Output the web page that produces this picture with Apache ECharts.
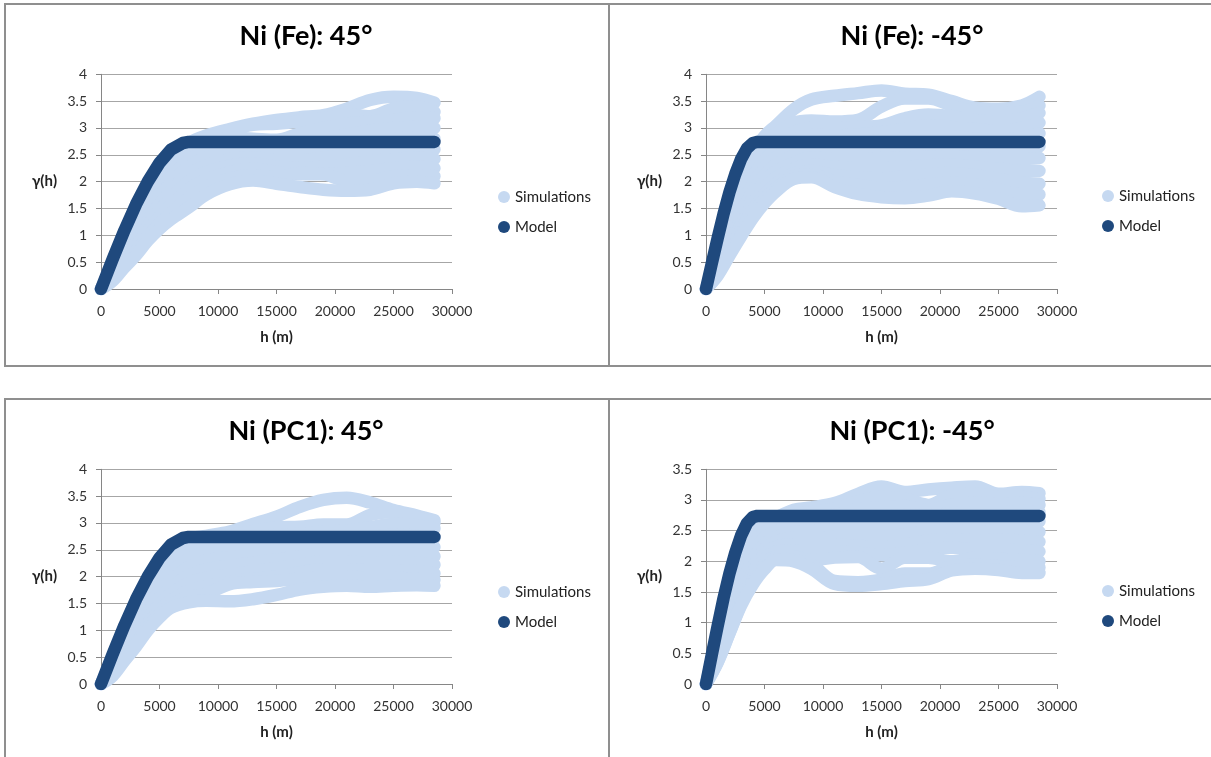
<!DOCTYPE html>
<html>
<head>
<meta charset="utf-8">
<script src="https://cdn.jsdelivr.net/npm/echarts@6/dist/echarts.min.js"></script>
<style>
html,body{margin:0;padding:0;background:#fff;}
#chart{width:1211px;height:757px;}
</style>
</head>
<body>
<div id="chart"></div>
<script>
// ---------- data ----------
var titles = ['Ni (Fe): 45°', 'Ni (Fe): -45°', 'Ni (PC1): 45°', 'Ni (PC1): -45°'];
var xTicks = [0, 5000, 10000, 15000, 20000, 25000, 30000];
var yMaxes = [4, 4, 4, 3.5];

// lag distances (m) at which the simulated variograms were read
var lagH = [0, 1000, 2000, 3000, 4000, 5000, 6000, 7500, 9000, 11000, 13000, 15000, 17000, 19000, 21000, 23000, 25000, 27000, 28500];

// Ni (Fe) 45°
var simFe45 = [
  [0, 0.50, 1.00, 1.45, 1.88, 2.22, 2.48, 2.72, 2.86, 2.98, 3.08, 3.15, 3.20, 3.24, 3.36, 3.52, 3.58, 3.56, 3.47],
  [0, 0.45, 0.92, 1.36, 1.76, 2.10, 2.36, 2.62, 2.80, 2.95, 3.06, 3.08, 3.12, 3.18, 3.25, 3.22, 3.36, 3.40, 3.30],
  [0, 0.40, 0.84, 1.26, 1.65, 1.98, 2.24, 2.52, 2.70, 2.82, 2.80, 2.78, 2.90, 3.00, 3.08, 3.12, 3.15, 3.20, 3.18],
  [0, 0.36, 0.76, 1.15, 1.52, 1.84, 2.10, 2.40, 2.58, 2.68, 2.66, 2.65, 2.72, 2.80, 2.88, 2.95, 3.00, 3.02, 3.00],
  [0, 0.32, 0.70, 1.06, 1.40, 1.72, 1.98, 2.28, 2.45, 2.55, 2.55, 2.52, 2.55, 2.62, 2.68, 2.74, 2.80, 2.82, 2.80],
  [0, 0.28, 0.64, 0.96, 1.28, 1.58, 1.84, 2.14, 2.30, 2.42, 2.45, 2.40, 2.40, 2.45, 2.50, 2.55, 2.60, 2.62, 2.60],
  [0, 0.25, 0.58, 0.88, 1.18, 1.46, 1.70, 2.00, 2.18, 2.30, 2.34, 2.28, 2.26, 2.28, 2.32, 2.38, 2.42, 2.45, 2.42],
  [0, 0.22, 0.52, 0.80, 1.08, 1.34, 1.56, 1.86, 2.04, 2.18, 2.24, 2.18, 2.14, 2.14, 2.16, 2.20, 2.25, 2.28, 2.25],
  [0, 0.18, 0.46, 0.72, 0.98, 1.22, 1.42, 1.70, 1.90, 2.06, 2.12, 2.08, 2.16, 2.14, 2.02, 2.02, 2.10, 2.12, 2.10],
  [0, 0.15, 0.40, 0.63, 0.90, 1.12, 1.30, 1.52, 1.76, 1.95, 2.02, 1.96, 1.90, 1.85, 1.83, 1.85, 1.97, 2.00, 1.97]
];

// Ni (Fe) -45°
var simFeM45 = [
  [0, 0.75, 1.50, 2.10, 2.55, 2.85, 3.05, 3.35, 3.53, 3.60, 3.65, 3.70, 3.64, 3.62, 3.50, 3.38, 3.36, 3.42, 3.58],
  [0, 0.68, 1.36, 1.94, 2.40, 2.72, 2.90, 3.10, 3.14, 3.12, 3.15, 3.40, 3.55, 3.55, 3.42, 3.30, 3.28, 3.30, 3.42],
  [0, 0.62, 1.24, 1.80, 2.25, 2.55, 2.72, 2.92, 3.00, 3.00, 3.02, 3.05, 3.18, 3.25, 3.22, 3.15, 3.12, 3.18, 3.28],
  [0, 0.56, 1.12, 1.66, 2.10, 2.40, 2.60, 2.78, 2.88, 2.86, 2.88, 2.92, 2.98, 3.05, 3.02, 2.98, 2.95, 3.00, 3.10],
  [0, 0.50, 1.02, 1.54, 1.96, 2.25, 2.45, 2.62, 2.72, 2.72, 2.74, 2.76, 2.80, 2.84, 2.84, 2.80, 2.78, 2.82, 2.90],
  [0, 0.45, 0.93, 1.42, 1.82, 2.12, 2.32, 2.48, 2.58, 2.58, 2.58, 2.60, 2.62, 2.64, 2.66, 2.62, 2.60, 2.62, 2.66],
  [0, 0.40, 0.85, 1.30, 1.70, 2.00, 2.20, 2.35, 2.45, 2.42, 2.42, 2.44, 2.45, 2.46, 2.48, 2.45, 2.42, 2.42, 2.44],
  [0, 0.36, 0.78, 1.20, 1.58, 1.88, 2.08, 2.24, 2.32, 2.28, 2.26, 2.26, 2.28, 2.30, 2.32, 2.28, 2.24, 2.20, 2.20],
  [0, 0.32, 0.72, 1.10, 1.48, 1.76, 1.96, 2.16, 2.20, 2.12, 2.08, 2.06, 2.10, 2.14, 2.16, 2.12, 2.05, 1.98, 1.96],
  [0, 0.28, 0.66, 1.03, 1.40, 1.68, 1.88, 2.10, 2.14, 2.00, 1.94, 1.88, 1.90, 1.95, 1.98, 1.95, 1.86, 1.76, 1.76],
  [0, 0.25, 0.62, 0.98, 1.32, 1.60, 1.82, 2.05, 2.08, 1.90, 1.77, 1.71, 1.69, 1.74, 1.82, 1.78, 1.68, 1.54, 1.56]
];

// Ni (PC1) 45°
var simPc45 = [
  [0, 0.50, 1.00, 1.45, 1.86, 2.20, 2.46, 2.70, 2.76, 2.84, 2.98, 3.12, 3.30, 3.43, 3.47, 3.38, 3.24, 3.14, 3.05],
  [0, 0.46, 0.93, 1.36, 1.75, 2.08, 2.34, 2.60, 2.70, 2.76, 2.85, 2.92, 2.93, 2.97, 2.97, 3.15, 3.20, 3.10, 3.00],
  [0, 0.42, 0.86, 1.27, 1.64, 1.96, 2.22, 2.48, 2.60, 2.66, 2.72, 2.78, 2.80, 2.84, 2.86, 2.92, 2.98, 2.96, 2.90],
  [0, 0.38, 0.80, 1.18, 1.54, 1.84, 2.08, 2.34, 2.46, 2.52, 2.58, 2.62, 2.66, 2.70, 2.72, 2.74, 2.78, 2.76, 2.72],
  [0, 0.34, 0.72, 1.09, 1.44, 1.72, 1.94, 2.18, 2.30, 2.36, 2.42, 2.48, 2.52, 2.55, 2.56, 2.58, 2.60, 2.58, 2.55],
  [0, 0.30, 0.66, 1.00, 1.33, 1.60, 1.80, 2.02, 2.14, 2.20, 2.26, 2.32, 2.38, 2.42, 2.42, 2.42, 2.44, 2.42, 2.38],
  [0, 0.26, 0.60, 0.91, 1.22, 1.48, 1.68, 1.88, 1.98, 2.04, 2.10, 2.16, 2.22, 2.28, 2.28, 2.26, 2.28, 2.26, 2.22],
  [0, 0.22, 0.54, 0.84, 1.13, 1.37, 1.56, 1.74, 1.82, 1.90, 1.96, 2.00, 2.08, 2.14, 2.14, 2.12, 2.12, 2.10, 2.06],
  [0, 0.18, 0.48, 0.76, 1.06, 1.30, 1.48, 1.63, 1.68, 1.86, 1.90, 1.92, 1.96, 2.00, 2.00, 1.98, 1.98, 1.96, 1.94],
  [0, 0.15, 0.43, 0.70, 1.00, 1.24, 1.42, 1.52, 1.55, 1.54, 1.58, 1.66, 1.76, 1.81, 1.83, 1.81, 1.83, 1.84, 1.83]
];

// Ni (PC1) -45°
var simPcM45 = [
  [0, 0.80, 1.55, 2.15, 2.55, 2.68, 2.72, 2.84, 2.88, 2.95, 3.10, 3.22, 3.13, 3.17, 3.20, 3.22, 3.10, 3.13, 3.11],
  [0, 0.72, 1.40, 1.98, 2.40, 2.58, 2.65, 2.76, 2.80, 2.86, 2.98, 3.05, 3.02, 2.92, 3.08, 3.10, 3.05, 3.05, 3.02],
  [0, 0.66, 1.28, 1.84, 2.26, 2.47, 2.56, 2.66, 2.70, 2.76, 2.85, 2.88, 2.90, 2.84, 2.92, 2.96, 2.94, 2.95, 2.92],
  [0, 0.60, 1.18, 1.72, 2.14, 2.38, 2.48, 2.58, 2.60, 2.65, 2.70, 2.72, 2.76, 2.75, 2.78, 2.80, 2.80, 2.82, 2.80],
  [0, 0.55, 1.08, 1.60, 2.02, 2.28, 2.40, 2.48, 2.50, 2.52, 2.55, 2.56, 2.60, 2.62, 2.64, 2.64, 2.65, 2.66, 2.65],
  [0, 0.50, 0.99, 1.50, 1.90, 2.20, 2.32, 2.38, 2.38, 2.40, 2.40, 2.40, 2.44, 2.48, 2.50, 2.48, 2.50, 2.50, 2.48],
  [0, 0.46, 0.92, 1.42, 1.82, 2.12, 2.24, 2.28, 2.28, 2.28, 2.25, 2.24, 2.28, 2.34, 2.36, 2.34, 2.35, 2.34, 2.32],
  [0, 0.42, 0.88, 1.36, 1.74, 2.04, 2.16, 2.18, 2.16, 2.16, 2.14, 2.10, 2.14, 2.20, 2.22, 2.20, 2.20, 2.18, 2.16],
  [0, 0.38, 0.85, 1.32, 1.68, 1.95, 2.08, 2.08, 2.02, 2.06, 2.07, 1.88, 2.06, 2.06, 2.00, 2.06, 2.04, 2.02, 2.00],
  [0, 0.36, 0.83, 1.30, 1.65, 1.90, 2.04, 2.02, 1.95, 1.68, 1.66, 1.70, 1.80, 1.80, 1.92, 1.94, 1.92, 1.90, 1.90],
  [0, 0.35, 0.82, 1.28, 1.62, 1.87, 2.02, 2.00, 1.88, 1.63, 1.60, 1.63, 1.68, 1.71, 1.85, 1.88, 1.86, 1.81, 1.81]
];

// fitted spherical models
var modelH45 = [0, 1000, 2000, 3000, 4000, 5000, 6000, 7000, 7500, 28500];
var modelG45 = [0, 0.56, 1.09, 1.58, 2.00, 2.35, 2.60, 2.72, 2.74, 2.74];
var modelHM45 = [0, 500, 1000, 1500, 2000, 2500, 3000, 3500, 4000, 4400, 28500];
var modelGM45 = [0, 0.48, 0.95, 1.40, 1.80, 2.14, 2.42, 2.62, 2.72, 2.74, 2.74];

// ---------- layout ----------
var SIM_COLOR = '#c6d9f1';
var MODEL_COLOR = '#1f497d';
var FONT = 'Lato, "Open Sans", sans-serif';

var panels = [
  {sims: simFe45,  mh: modelH45,  mg: modelG45,  grid: {left: 101, top: 74.3,  width: 351, height: 214.7}, legend: {left: 498,  top: 189}, title: [306, 36],  box: [5, 4]},
  {sims: simFeM45, mh: modelHM45, mg: modelGM45, grid: {left: 706, top: 74.3,  width: 351, height: 214.7}, legend: {left: 1102, top: 188}, title: [912, 36],  box: [609, 4]},
  {sims: simPc45,  mh: modelH45,  mg: modelG45,  grid: {left: 101, top: 469.3, width: 351, height: 214.7}, legend: {left: 498,  top: 584}, title: [306, 431], box: [5, 399]},
  {sims: simPcM45, mh: modelHM45, mg: modelGM45, grid: {left: 706, top: 469.3, width: 351, height: 214.7}, legend: {left: 1102, top: 583}, title: [912, 431], box: [609, 399]}
];

function pairs(xs, ys) {
  var out = [];
  for (var i = 0; i < xs.length; i++) out.push([xs[i], ys[i]]);
  return out;
}

var grids = [], xAxes = [], yAxes = [], series = [], legends = [], graphics = [];

panels.forEach(function (p, k) {
  grids.push(p.grid);
  xAxes.push({
    type: 'value', gridIndex: k, min: xTicks[0], max: xTicks[xTicks.length - 1], interval: xTicks[1] - xTicks[0],
    name: 'h (m)', nameLocation: 'middle', nameGap: 41,
    nameTextStyle: {fontFamily: FONT, fontWeight: 'bold', fontSize: 15, color: '#222'},
    axisLine: {show: true, lineStyle: {color: '#868686', width: 1}},
    axisTick: {show: true, length: 5, lineStyle: {color: '#868686'}},
    axisLabel: {fontFamily: FONT, fontSize: 14, color: '#333', margin: 15,
                formatter: function (v) { return String(v); }},
    splitLine: {show: false}
  });
  yAxes.push({
    type: 'value', gridIndex: k, min: 0, max: yMaxes[k], interval: 0.5,
    name: 'γ(h)', nameLocation: 'middle', nameRotate: 0, nameGap: 44,
    nameTextStyle: {fontFamily: FONT, fontWeight: 'bold', fontSize: 15, color: '#222'},
    axisLine: {show: true, lineStyle: {color: '#868686', width: 1}},
    axisTick: {show: true, length: 5, lineStyle: {color: '#868686'}},
    axisLabel: {fontFamily: FONT, fontSize: 14, color: '#333', margin: 14,
                formatter: function (v) { return String(v); }},
    splitLine: {show: true, lineStyle: {color: '#a6a6a6', width: 1}}
  });
  p.sims.forEach(function (s) {
    series.push({
      name: 'Simulations', type: 'line', xAxisIndex: k, yAxisIndex: k,
      data: pairs(lagH, s), smooth: 0.35, showSymbol: false, symbol: 'circle',
      itemStyle: {color: SIM_COLOR},
      lineStyle: {color: SIM_COLOR, width: 12.5, cap: 'round', join: 'round'},
      silent: true, animation: false, z: 2
    });
  });
  series.push({
    name: 'Model', type: 'line', xAxisIndex: k, yAxisIndex: k,
    data: pairs(p.mh, p.mg), smooth: false, showSymbol: false, symbol: 'circle',
    itemStyle: {color: MODEL_COLOR},
    lineStyle: {color: MODEL_COLOR, width: 12.5, cap: 'round', join: 'round'},
    silent: true, animation: false, z: 3
  });
  legends.push({
    left: p.legend.left, top: p.legend.top, orient: 'vertical', padding: 0,
    data: ['Simulations', 'Model'], icon: 'circle', itemWidth: 12, itemHeight: 12, itemGap: 14,
    textStyle: {fontFamily: FONT, fontSize: 15, color: '#222', lineHeight: 16},
    selectedMode: false
  });
  graphics.push({
    type: 'rect', silent: true,
    shape: {x: p.box[0], y: p.box[1], width: 604, height: 362},
    style: {fill: 'none', stroke: '#8f8f8f', lineWidth: 2}
  });
  graphics.push({
    type: 'text', silent: true, x: p.title[0], y: p.title[1],
    style: {text: titles[k], fontFamily: FONT, fontWeight: 'bold', fontSize: 27, fill: '#000',
            align: 'center', verticalAlign: 'middle'}
  });
});

var chart = echarts.init(document.getElementById('chart'), null, {renderer: 'canvas'});
chart.setOption({
  animation: false,
  backgroundColor: '#ffffff',
  grid: grids,
  xAxis: xAxes,
  yAxis: yAxes,
  legend: legends,
  series: series,
  graphic: graphics
});
</script>
</body>
</html>
